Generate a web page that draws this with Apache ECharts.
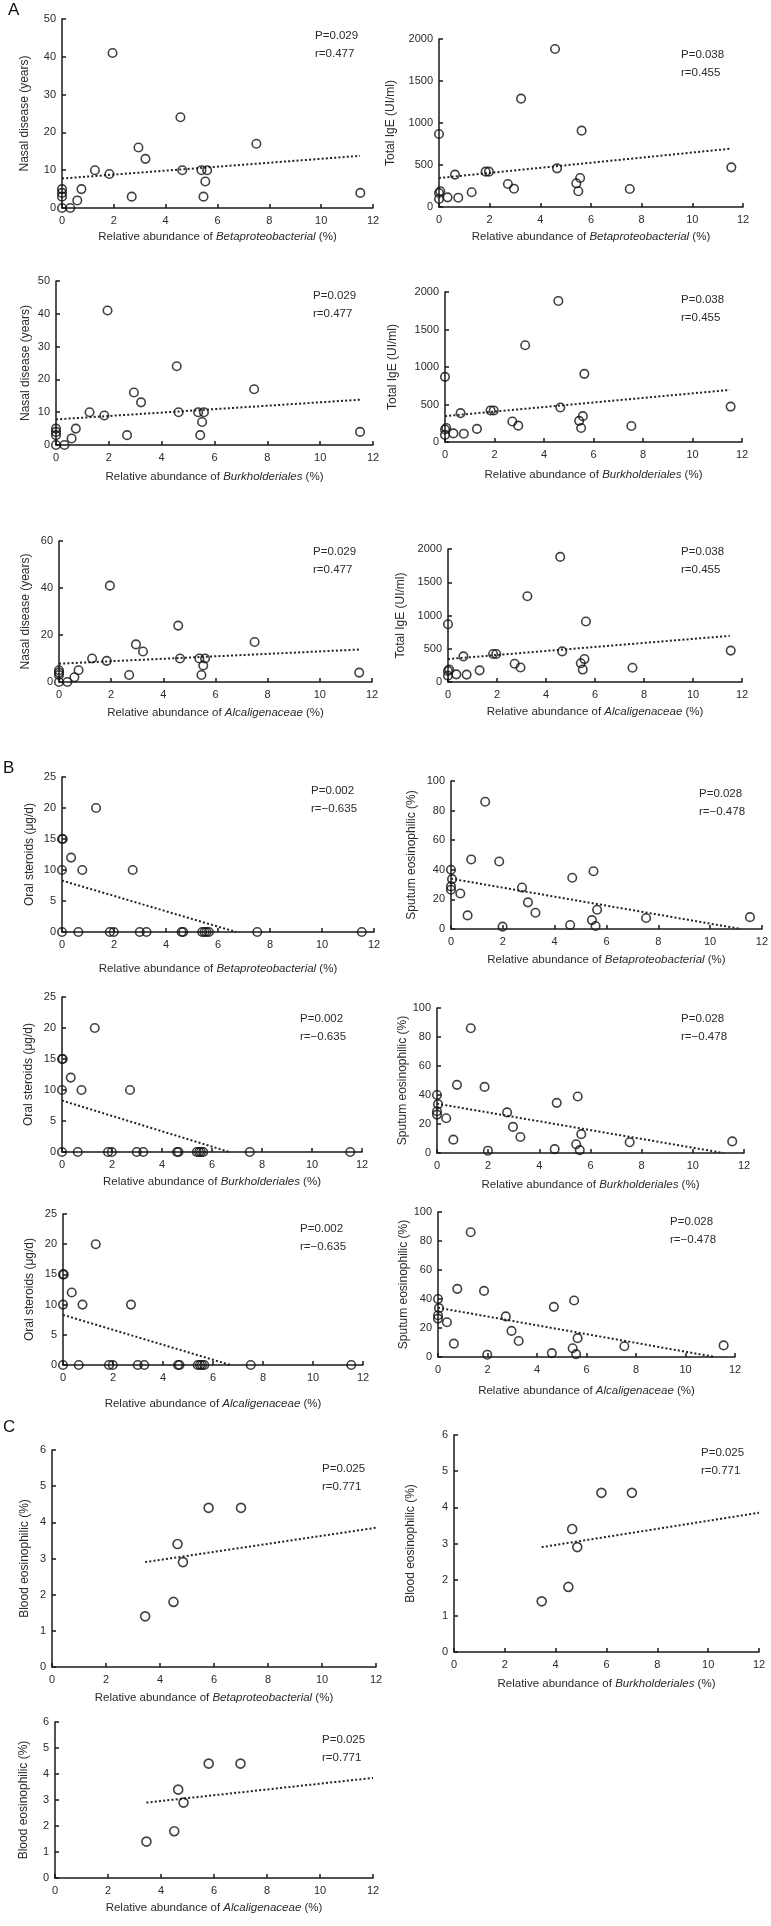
<!DOCTYPE html>
<html>
<head>
<meta charset="utf-8">
<script src="https://cdn.jsdelivr.net/npm/echarts@6/dist/echarts.min.js"></script>
<style>
html,body{margin:0;padding:0;background:#fff;}
#chart{width:771px;height:1926px;}
</style>
</head>
<body>
<div id="chart"></div>
<script>
// ---------- DATA ----------
const bacteria = ['Betaproteobacterial', 'Burkholderiales', 'Alcaligenaceae'];

const nasalX = [0, 0, 0, 0, 0.32, 0.59, 0.75, 1.27, 1.83, 1.95, 2.69, 2.95, 3.22, 4.57, 4.64, 5.38, 5.6, 5.53, 5.46, 7.5, 11.51];
const nasalY = [5, 4, 3, 0, 0, 2, 5, 10, 9, 41, 3, 16, 13, 24, 10, 10, 10, 7, 3, 17, 4];
const nasalTrendX = [0, 11.5];
const nasalTrendY = [7.8, 13.8];

const igeX = [0, 0, 0, 0.05, 0.34, 0.76, 0.63, 1.29, 1.84, 1.97, 2.72, 2.96, 3.24, 4.58, 4.66, 5.42, 5.5, 5.57, 5.63, 7.53, 11.54];
const igeY = [869, 95, 167, 187, 115, 111, 385, 175, 421, 421, 274, 218, 1290, 1881, 460, 282, 187, 345, 909, 214, 472];
const igeTrendX = [0, 11.5];
const igeTrendY = [345, 694];

const steroidX = [0, 0.03, 0, 0.35, 0.78, 1.31, 2.72, 0, 0.63, 1.84, 1.99, 2.99, 3.25, 4.6, 4.66, 5.39, 5.48, 5.56, 5.65, 7.51, 11.53];
const steroidY = [15, 15, 10, 12, 10, 20, 10, 0, 0, 0, 0, 0, 0, 0, 0, 0, 0, 0, 0, 0, 0];
const steroidTrendX = [0, 6.7];
const steroidTrendY = [8.3, 0];

const sputumX = [0, 0.04, 0, 0, 0.36, 0.64, 0.78, 1.32, 1.86, 1.99, 2.74, 2.97, 3.26, 4.6, 4.68, 5.44, 5.5, 5.58, 5.64, 7.53, 11.54];
const sputumY = [40, 33.7, 28.8, 26.5, 24, 9.2, 47, 86, 45.6, 1.6, 28, 18, 11, 2.7, 34.6, 6, 39, 2, 13, 7.4, 8];
const sputumTrendX = [0, 11.2];
const sputumTrendY = [34, 0];

const bloodX = [3.45, 4.5, 4.65, 4.85, 5.8, 7.0];
const bloodY = [1.4, 1.8, 3.4, 2.9, 4.4, 4.4];
const bloodTrendX = [3.45, 12];
const bloodTrendY = [2.9, 3.85];

const stats = {
  nasal: ['P=0.029', 'r=0.477'],
  ige: ['P=0.038', 'r=0.455'],
  steroid: ['P=0.002', 'r=\u22120.635'],
  sputum: ['P=0.028', 'r=\u22120.478'],
  blood: ['P=0.025', 'r=0.771']
};

const variables = {
  nasal: {x: nasalX, y: nasalY, tx: nasalTrendX, ty: nasalTrendY, name: 'Nasal disease (years)'},
  ige: {x: igeX, y: igeY, tx: igeTrendX, ty: igeTrendY, name: 'Total IgE (UI/ml)', max: 2000, interval: 500},
  steroid: {x: steroidX, y: steroidY, tx: steroidTrendX, ty: steroidTrendY, name: 'Oral steroids (\u03bcg/d)', max: 25, interval: 5},
  sputum: {x: sputumX, y: sputumY, tx: sputumTrendX, ty: sputumTrendY, name: 'Sputum eosinophilic (%)', max: 100, interval: 20},
  blood: {x: bloodX, y: bloodY, tx: bloodTrendX, ty: bloodTrendY, name: 'Blood eosinophilic (%)', max: 6, interval: 1}
};

// ---------- LAYOUT ----------
const panels = [
  {v: 'nasal', b: 0, g: [62, 19, 311, 189], yMax: 50, yInt: 10, yd: 37, xd: 29, ann: [315, 37]},
  {v: 'ige', b: 0, g: [439, 39, 304, 168], yd: 48, xd: 30, ann: [681, 56]},
  {v: 'nasal', b: 1, g: [56, 281, 317, 164], yMax: 50, yInt: 10, yd: 30, xd: 32, ann: [313, 297]},
  {v: 'ige', b: 1, g: [445, 292, 297, 150], yd: 52, xd: 33, ann: [681, 301]},
  {v: 'nasal', b: 2, g: [59, 541, 313, 141], yMax: 60, yInt: 20, yd: 33, xd: 31, ann: [313, 553]},
  {v: 'ige', b: 2, g: [448, 549, 294, 133], yd: 47, xd: 30, ann: [681, 553]},
  {v: 'steroid', b: 0, g: [62, 777, 312, 155], yd: 32, xd: 37, ann: [311, 792]},
  {v: 'sputum', b: 0, g: [451, 781, 312, 148], yd: 39, xd: 31, ann: [699, 795]},
  {v: 'steroid', b: 1, g: [62, 997, 300, 155], yd: 33, xd: 30, ann: [300, 1020]},
  {v: 'sputum', b: 1, g: [437, 1008, 307, 145], yd: 30, xd: 32, ann: [681, 1020]},
  {v: 'steroid', b: 2, g: [63, 1214, 300, 151], yd: 33, xd: 39, ann: [300, 1230]},
  {v: 'sputum', b: 2, g: [438, 1212, 297, 145], yd: 33, xd: 34, ann: [670, 1223]},
  {v: 'blood', b: 0, g: [52, 1450, 324, 217], yd: 27, xd: 31, ann: [322, 1470], sym: 9},
  {v: 'blood', b: 1, g: [454, 1435, 305, 217], yd: 43, xd: 32, ann: [701, 1454], sym: 9},
  {v: 'blood', b: 2, g: [55, 1722, 318, 156], yd: 31, xd: 30, ann: [322, 1741], sym: 9}
];

const FONT = '"Liberation Sans", Arial, Helvetica, sans-serif';
const TXT = '#2a2a2a';
const AX = '#1a1a1a';

const grid = [], xAxis = [], yAxis = [], series = [], graphic = [];

panels.forEach((p, i) => {
  const v = variables[p.v];
  grid.push({left: p.g[0], top: p.g[1], width: p.g[2], height: p.g[3], containLabel: false});
  xAxis.push({
    gridIndex: i, type: 'value', min: 0, max: 12, interval: 2,
    axisLine: {show: true, onZero: false, lineStyle: {color: AX, width: 1.5}},
    axisTick: {show: true, inside: true, length: 4, lineStyle: {color: AX, width: 1.5}},
    axisLabel: {color: TXT, fontSize: 11, fontFamily: FONT, margin: 7, formatter: (val) => String(val)},
    splitLine: {show: false},
    name: 'Relative abundance of {i|' + bacteria[p.b] + '} (%)',
    nameLocation: 'middle', nameGap: p.xd - 6,
    nameTextStyle: {color: TXT, fontSize: 11.5, fontFamily: FONT,
      rich: {i: {fontStyle: 'italic', color: TXT, fontSize: 11.5, fontFamily: FONT}}}
  });
  yAxis.push({
    gridIndex: i, type: 'value', min: 0,
    max: p.yMax !== undefined ? p.yMax : v.max,
    interval: p.yInt !== undefined ? p.yInt : v.interval,
    axisLine: {show: true, onZero: false, lineStyle: {color: AX, width: 1.5}},
    axisTick: {show: true, inside: true, length: 4, lineStyle: {color: AX, width: 1.5}},
    axisLabel: {color: TXT, fontSize: 11, fontFamily: FONT, margin: 6, formatter: (val) => String(val)},
    splitLine: {show: false},
    name: v.name, nameLocation: 'middle', nameGap: p.yd - 6,
    nameTextStyle: {color: TXT, fontSize: 12, fontFamily: FONT}
  });
  series.push({
    type: 'line', xAxisIndex: i, yAxisIndex: i, symbol: 'none', silent: true,
    data: v.tx.map((x, k) => [x, v.ty[k]]),
    lineStyle: {color: '#222', width: 2, type: [2, 2.2]}, z: 2
  });
  series.push({
    type: 'scatter', xAxisIndex: i, yAxisIndex: i, symbol: 'circle',
    symbolSize: p.sym || 8.5,
    data: v.x.map((x, k) => [x, v.y[k]]),
    itemStyle: {color: 'rgba(0,0,0,0)', borderColor: '#111', borderWidth: 1.6},
    z: 3
  });
  const st = stats[p.v];
  graphic.push({type: 'text', left: p.ann[0], top: p.ann[1] - 7,
    style: {text: st[0], fill: TXT, font: '11.5px ' + FONT}});
  graphic.push({type: 'text', left: p.ann[0], top: p.ann[1] + 11,
    style: {text: st[1], fill: TXT, font: '11.5px ' + FONT}});
});

graphic.push({type: 'text', left: 8, top: 2, style: {text: 'A', fill: '#111', font: '17px ' + FONT}});
graphic.push({type: 'text', left: 3, top: 760, style: {text: 'B', fill: '#111', font: '17px ' + FONT}});
graphic.push({type: 'text', left: 3, top: 1419, style: {text: 'C', fill: '#111', font: '17px ' + FONT}});

const chart = echarts.init(document.getElementById('chart'), null, {renderer: 'canvas'});
chart.setOption({
  backgroundColor: '#fff',
  animation: false,
  textStyle: {fontFamily: FONT},
  grid, xAxis, yAxis, series, graphic
});
</script>
</body>
</html>
